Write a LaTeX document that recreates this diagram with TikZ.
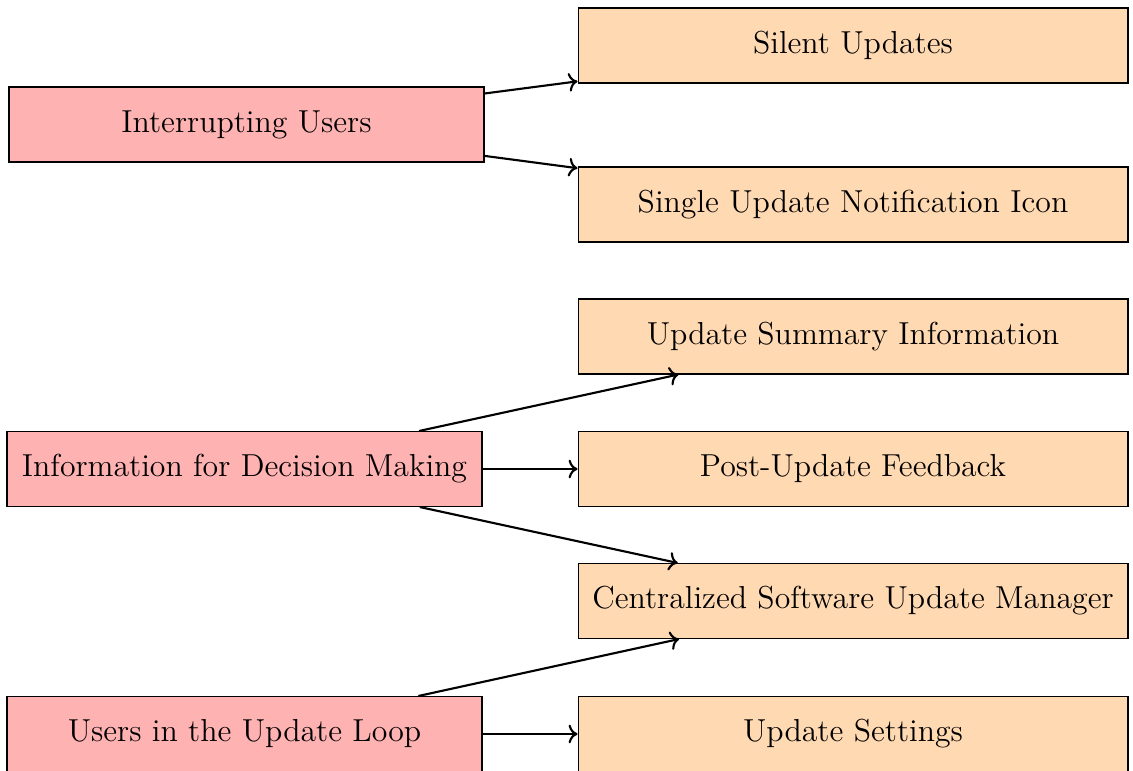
\documentclass[tikz,border=0pt]{standalone}
\usetikzlibrary{arrows.meta}
\begin{document}
\begin{tikzpicture}[x=0.3775pt,y=-0.3775pt,
  every node/.style={font=\large},
  leftbox/.style={draw, fill=red!30, minimum width=179.3pt, minimum height=28.3pt, inner sep=0pt},
  rightbox/.style={draw, fill=orange!30, minimum width=207.6pt, minimum height=28.3pt, inner sep=0pt},
  conn/.style={->, thick}]
\useasboundingbox (0,0) rectangle (1133,770);
\node[leftbox] (iu) at (246.5,124.5) {Interrupting Users};
\node[leftbox] (idm) at (244.5,469) {Information for Decision Making};
\node[leftbox] (uul) at (244.5,734) {Users in the Update Loop};
\node[rightbox] (su) at (853,45.5) {Silent Updates};
\node[rightbox] (suni) at (853,204.5) {Single Update Notification Icon};
\node[rightbox] (usi) at (853,336.5) {Update Summary Information};
\node[rightbox] (puf) at (853,469) {Post-Update Feedback};
\node[rightbox] (csum) at (853,601) {Centralized Software Update Manager};
\node[rightbox] (us) at (853,734) {Update Settings};
\draw[conn] (iu) -- (su);
\draw[conn] (iu) -- (suni);
\draw[conn] (idm) -- (usi);
\draw[conn] (idm) -- (puf);
\draw[conn] (idm) -- (csum);
\draw[conn] (uul) -- (csum);
\draw[conn] (uul) -- (us);
\end{tikzpicture}
\end{document}
